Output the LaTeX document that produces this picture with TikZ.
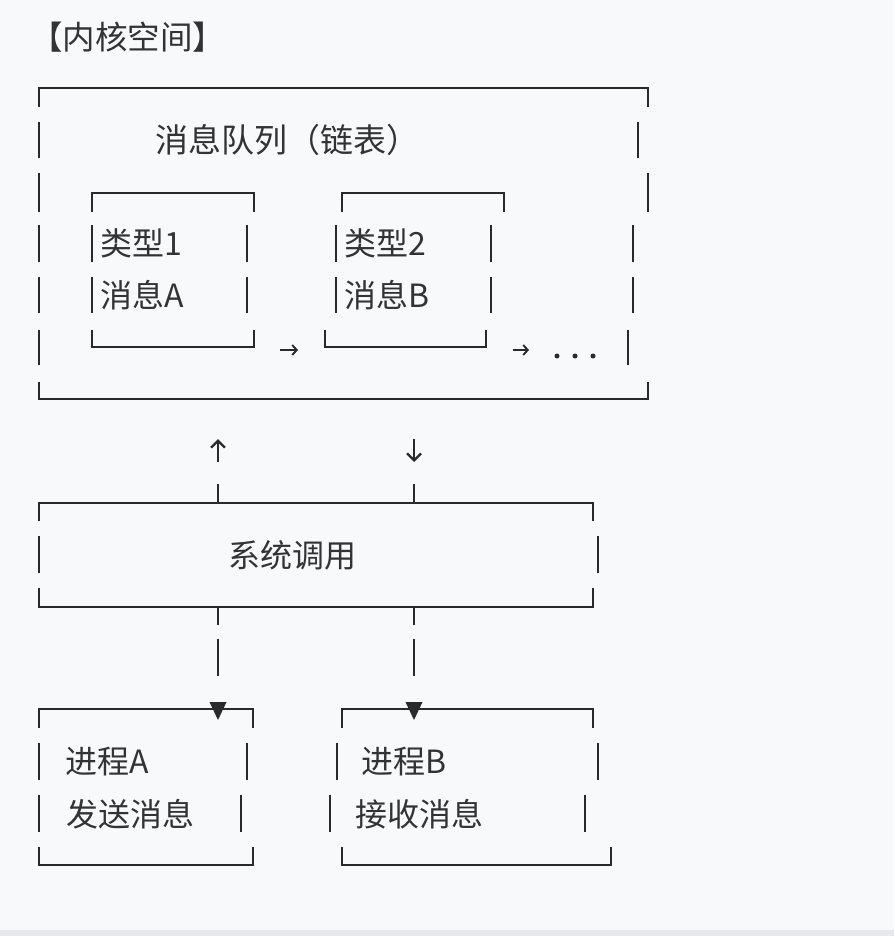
\documentclass[tikz,border=0pt]{standalone}
\usepackage{fontspec}
\newfontfamily\cjk{Noto Sans CJK SC}
\usetikzlibrary{arrows.meta}
\definecolor{bgc}{HTML}{F8F9FB}
\definecolor{edgec}{HTML}{E6E8EC}
\definecolor{inkc}{HTML}{2A2A2A}
\definecolor{txtc}{HTML}{333333}
\tikzset{
  ln/.style={draw=inkc, line width=2pt, line cap=butt, line join=miter},
  arr/.style={draw=inkc, line width=2.3pt, -{Straight Barb[length=7pt,width=14pt,line width=2.3pt]}},
  sarr/.style={draw=inkc, line width=1.9pt, -{Straight Barb[length=4.5pt,width=10pt,line width=1.9pt]}},
  txt/.style={inner sep=0pt, outer sep=0pt, text=txtc, font=\cjk\fontsize{32}{32}\selectfont},
  lbl/.style={txt, anchor=west},
  tri/.style={fill=inkc, draw=none}
}
\begin{document}
\begin{tikzpicture}[x=1pt,y=-1pt]
\fill[bgc] (0,0) rectangle (894,936);
\useasboundingbox (0,0) rectangle (894,936);
\fill[edgec] (0,930) rectangle (894,936);

% title
\node[txt, font=\cjk\fontsize{32.5}{32.5}\selectfont] (title) at (127.5,37) {【内核空间】};

% outer box (message queue)
\draw[ln] (39,107) -- (39,88) -- (648,88) -- (648,107);
\foreach \a/\b in {122/158,173/212,225/262,277/313,330/365}
  \draw[ln] (39,\a) -- (39,\b);
\draw[ln] (638,122) -- (638,158);
\draw[ln] (648,173) -- (648,212);
\draw[ln] (633,225) -- (633,262);
\draw[ln] (633,277) -- (633,313);
\draw[ln] (628,330) -- (628,365);
\draw[ln] (39,382) -- (39,399) -- (648,399) -- (648,382);
\node[lbl, font=\cjk\fontsize{33}{33}\selectfont] (mq) at (155.5,140) {消息队列（链表）};

% inner box 1
\draw[ln] (92,212) -- (92,193) -- (254,193) -- (254,212);
\foreach \a/\b in {225/262,277/313}{
  \draw[ln] (92,\a) -- (92,\b);
  \draw[ln] (247,\a) -- (247,\b);}
\draw[ln] (92,330) -- (92,347) -- (254,347) -- (254,330);
\node[lbl] (t1) at (100.5,243) {类型1};
\node[lbl] (m1) at (100.5,295) {消息A};

% inner box 2
\draw[ln] (342,212) -- (342,193) -- (504,193) -- (504,212);
\foreach \a/\b in {225/262,277/313}{
  \draw[ln] (336,\a) -- (336,\b);
  \draw[ln] (491,\a) -- (491,\b);}
\draw[ln] (325,330) -- (325,347) -- (486,347) -- (486,330);
\node[lbl] (t2) at (344.5,243) {类型2};
\node[lbl] (m2) at (344.5,295) {消息B};

% link arrows and dots
\coordinate (l1s) at (280,350); \coordinate (l1e) at (298,350);
\coordinate (l2s) at (513,350); \coordinate (l2e) at (529,350);
\draw[sarr] (l1s) -- (l1e);
\draw[sarr] (l2s) -- (l2e);
\foreach \x in {557,575,593} \fill[inkc] (\x,356) circle (2.5pt);

% up / down arrows
\coordinate (ua) at (218,462); \coordinate (ub) at (218,439);
\coordinate (da) at (414,439); \coordinate (db) at (414,462);
\draw[arr] (ua) -- (ub);
\draw[arr] (da) -- (db);
\draw[ln] (218,484) -- (218,503);
\draw[ln] (414,484) -- (414,503);

% syscall box
\draw[ln] (39,521) -- (39,503) -- (593,503) -- (593,521);
\draw[ln] (39,536) -- (39,573);
\draw[ln] (598,536) -- (598,573);
\draw[ln] (39,588) -- (39,607) -- (593,607) -- (593,588);
\node[txt] (sc) at (292.5,555) {系统调用};

% stubs below
\foreach \x in {218,414}{
  \draw[ln] (\x,607) -- (\x,625);
  \draw[ln] (\x,639) -- (\x,676);}

% process A
\draw[ln] (39,728) -- (39,709) -- (253,709) -- (253,728);
\draw[ln] (39,743) -- (39,780);
\draw[ln] (247,743) -- (247,780);
\draw[ln] (39,795) -- (39,832);
\draw[ln] (241,795) -- (241,832);
\draw[ln] (39,847) -- (39,865) -- (253,865) -- (253,847);
\fill[tri] (209.5,702) -- (226.5,702) -- (218,720) -- cycle;
\node[lbl] (pa) at (65.5,762) {进程A};
\node[lbl] (pa2) at (66.5,814) {发送消息};

% process B
\draw[ln] (342,728) -- (342,709) -- (593,709) -- (593,728);
\draw[ln] (337,743) -- (337,780);
\draw[ln] (598,743) -- (598,780);
\draw[ln] (330,795) -- (330,832);
\draw[ln] (585,795) -- (585,832);
\draw[ln] (342,847) -- (342,865) -- (611,865) -- (611,847);
\fill[tri] (405.5,702) -- (422.5,702) -- (414,720) -- cycle;
\node[lbl] (pb) at (361.5,762) {进程B};
\node[lbl] (pb2) at (355.5,814) {接收消息};
\end{tikzpicture}
\end{document}
